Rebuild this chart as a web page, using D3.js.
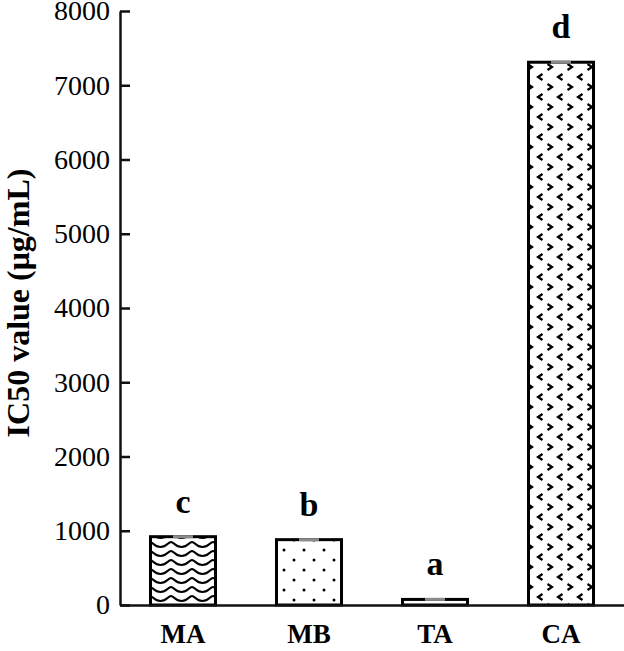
<!DOCTYPE html>
<html><head><meta charset="utf-8">
<script src="https://cdn.jsdelivr.net/npm/d3@7"></script>
<style>body{margin:0;background:#fff;} svg{display:block;}</style>
</head><body>
<svg id="chart" width="624" height="651"></svg>
<script>
const categories = ["MA", "MB", "TA", "CA"];
const values = [920, 880, 75, 7310];
const letters = ["c", "b", "a", "d"];
const patterns = ["wave", "dots", "none", "chevron"];
const yTicks = [0, 1000, 2000, 3000, 4000, 5000, 6000, 7000, 8000];

const svg = d3.select("#chart");
const defs = svg.append("defs");

// wave pattern
const pw = defs.append("pattern").attr("id","wave").attr("patternUnits","userSpaceOnUse")
  .attr("width",21).attr("height",9).attr("x",150).attr("y",0);
pw.append("path").attr("d","M0,2 C3,2 4,7 10.5,7 C17,7 18,2 21,2")
  .attr("fill","none").attr("stroke","#000").attr("stroke-width",2.2);

// dots pattern
const pd = defs.append("pattern").attr("id","dots").attr("patternUnits","userSpaceOnUse")
  .attr("width",20).attr("height",20).attr("x",279).attr("y",5);
pd.append("circle").attr("cx",5).attr("cy",5).attr("r",1.5).attr("fill","#000");
pd.append("circle").attr("cx",15).attr("cy",15).attr("r",1.5).attr("fill","#000");

// chevron pattern
const pc = defs.append("pattern").attr("id","chevron").attr("patternUnits","userSpaceOnUse")
  .attr("width",20).attr("height",20).attr("x",530).attr("y",4);
[[0,">",3],[20,">",3],[10,"<",13],[0,">",23],[20,">",23]].forEach(([cx,t,cy])=>{
  const d = t===">" ? `M${cx-2.5},${cy-3} L${cx+2},${cy} L${cx-2.5},${cy+3}` : `M${cx+2.5},${cy-3} L${cx-2},${cy} L${cx+2.5},${cy+3}`;
  pc.append("path").attr("d",d).attr("fill","none").attr("stroke","#000").attr("stroke-width",2.2);
});

const x = d3.scaleBand().domain(categories).range([120, 624]).paddingInner(0.484).paddingOuter(0.242);
const y = d3.scaleLinear().domain([0, 8000]).range([605, 11]);

const font = "'Liberation Serif','Times New Roman',serif";

// bars
const g = svg.append("g");
categories.forEach((c,i)=>{
  g.append("rect").attr("x",x(c)).attr("y",y(values[i])).attr("width",x.bandwidth())
    .attr("height",y(0)-y(values[i]))
    .attr("fill", patterns[i]==="none" ? "#fff" : `url(#${patterns[i]})`)
    .attr("stroke","#000").attr("stroke-width",3);
  const cx = x(c)+x.bandwidth()/2;
  g.append("line").attr("x1",cx-10).attr("x2",cx+10).attr("y1",y(values[i])).attr("y2",y(values[i]))
    .attr("stroke","#8a8a8a").attr("stroke-width",3);
  g.append("text").attr("x",cx).attr("y",y(values[i])-24).attr("text-anchor","middle")
    .attr("font-family",font).attr("font-weight","bold").attr("font-size",34).text(letters[i]);
});

// y axis
const ya = svg.append("g").attr("transform","translate(120,0)")
  .call(d3.axisLeft(y).tickValues(yTicks).tickFormat(d3.format("d")).tickSizeInner(-10).tickSizeOuter(0).tickPadding(10));
ya.selectAll("path,line").attr("stroke","#111").attr("stroke-width",2.5);
ya.selectAll("text").attr("font-family",font).attr("font-size",28).attr("fill","#000");

// x axis
const xa = svg.append("g").attr("transform","translate(0,605)")
  .call(d3.axisBottom(x).tickSize(0).tickPadding(10));
xa.select("path").attr("stroke","#111").attr("stroke-width",2.5);
xa.selectAll("text").attr("font-family",font).attr("font-size",27).attr("font-weight","bold")
  .attr("fill","#000").attr("dy","1.05em");

// y label
svg.append("text").attr("transform","translate(29,303) rotate(-90)").attr("text-anchor","middle")
  .attr("font-family",font).attr("font-weight","bold").attr("font-size",32).text("IC50 value (μg/mL)");
</script>
</body></html>
